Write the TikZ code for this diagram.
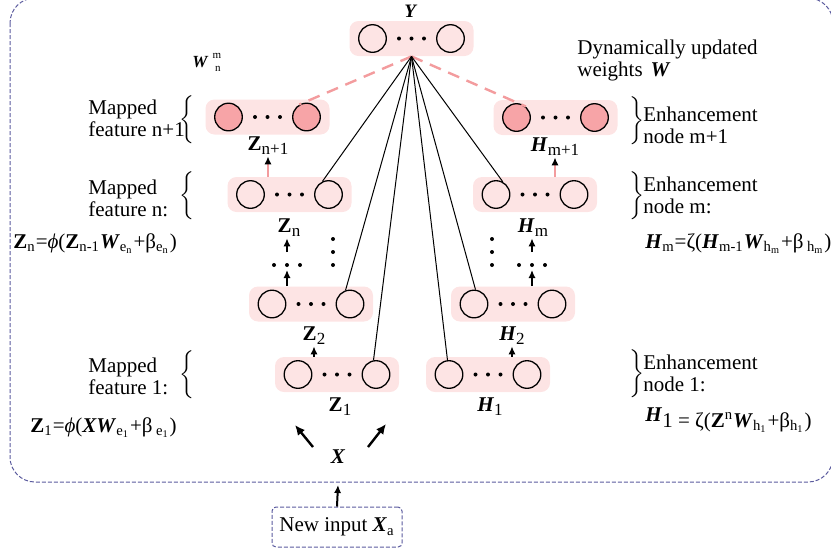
\documentclass[tikz,border=0pt]{standalone}
\usepackage{fontspec}
\setmainfont{Liberation Serif}
\usetikzlibrary{calc}
\usetikzlibrary{calc,arrows.meta,positioning}
\definecolor{boxpink}{HTML}{FDE4E4}
\definecolor{unitpink}{HTML}{F7A4A7}
\definecolor{linkpink}{HTML}{F39C9E}
\definecolor{frameblue}{HTML}{5B5B9E}
\newcommand{\Px}{0.5pt}
\newcommand{\BI}[1]{\textbf{\textit{#1}}}
\newcommand{\Lbl}[2]{#1\raisebox{-2pt}{\fontsize{8.5}{8.5}\selectfont #2}}
\tikzset{Layer/.style={
    inner sep=0pt,
    minimum width=62pt,
    minimum height=17.5pt,
    rounded corners=4.5pt,
    fill=boxpink,
    }
}
\tikzset{Unit/.style={
    circle,
    inner sep=0pt,
    minimum size=13.8pt,
    draw=black,
    line width=0.65pt,
    fill=boxpink,
    }
}

\begin{document}
\begin{tikzpicture}[x=\Px, y=-\Px,
    font=\fontsize{10.5}{11}\selectfont,
    Txt/.style={inner sep=0pt, align=left, anchor=base west},
    Lab/.style={inner sep=1pt, anchor=base},
    Arr/.style={-{Latex[length=4pt,width=3.6pt]}, line width=0.75pt},
    PinkArr/.style={-{Latex[length=4pt,width=3.6pt,color=black]}, line width=0.75pt, draw=linkpink},
    BigArr/.style={-{Latex[length=5pt,width=4.6pt]}, line width=1.2pt},
    Link/.style={line width=0.5pt},
    PinkDash/.style={draw=linkpink, line width=1.2pt, dash pattern=on 6pt off 4pt},
    Frame/.style={draw=frameblue, line width=0.5pt, dash pattern=on 2pt off 1pt},
    Dark/.style={Unit, fill=unitpink},
]
\useasboundingbox (0,0) rectangle (831,554);
\clip (0,0) rectangle (831,554);

% outer frame and new input
\draw[Frame, rounded corners=12.5pt] (10,-2) rectangle (833,482);
\node [Frame, rounded corners=2pt, inner sep=0pt, minimum width=65pt, minimum height=20pt] (input) at (337,527) {New input \BI{X}\textsubscript{a}};
\coordinate (xin) at (338,485);
\draw[Arr, line width=1pt] (input.north) -- (xin);

% output layer
\pgfmathsetmacro{\cx}{411.5} \pgfmathsetmacro{\cy}{38.5}
\node [Layer] (ly) at (\cx,\cy) {};
\node [Unit] (ly-a) at ($(\cx,\cy)+(-39,0)$) {};
\node [Unit] (ly-b) at ($(\cx,\cy)+(39,0)$) {};
\foreach \d in {-12.5,0,12.5} \fill ($(\cx,\cy)+(\d,0)$) circle [radius=1pt];

% mapped feature n+1
\pgfmathsetmacro{\cx}{267.5} \pgfmathsetmacro{\cy}{117}
\node [Layer] (lzp) at (\cx,\cy) {};
\node [Dark] (lzp-a) at ($(\cx,\cy)+(-39,0)$) {};
\node [Dark] (lzp-b) at ($(\cx,\cy)+(39,0)$) {};
\foreach \d in {-12.5,0,12.5} \fill ($(\cx,\cy)+(\d,0)$) circle [radius=1pt];

% enhancement node m+1
\pgfmathsetmacro{\cx}{555.5} \pgfmathsetmacro{\cy}{117.5}
\node [Layer] (lhp) at (\cx,\cy) {};
\node [Dark] (lhp-a) at ($(\cx,\cy)+(-39,0)$) {};
\node [Dark] (lhp-b) at ($(\cx,\cy)+(39,0)$) {};
\foreach \d in {-12.5,0,12.5} \fill ($(\cx,\cy)+(\d,0)$) circle [radius=1pt];

% mapped feature n
\pgfmathsetmacro{\cx}{289.5} \pgfmathsetmacro{\cy}{194.5}
\node [Layer] (lzn) at (\cx,\cy) {};
\node [Unit] (lzn-a) at ($(\cx,\cy)+(-39,0)$) {};
\node [Unit] (lzn-b) at ($(\cx,\cy)+(39,0)$) {};
\foreach \d in {-12.5,0,12.5} \fill ($(\cx,\cy)+(\d,0)$) circle [radius=1pt];

% enhancement node m
\pgfmathsetmacro{\cx}{535} \pgfmathsetmacro{\cy}{194.5}
\node [Layer] (lhm) at (\cx,\cy) {};
\node [Unit] (lhm-a) at ($(\cx,\cy)+(-39,0)$) {};
\node [Unit] (lhm-b) at ($(\cx,\cy)+(39,0)$) {};
\foreach \d in {-12.5,0,12.5} \fill ($(\cx,\cy)+(\d,0)$) circle [radius=1pt];

% mapped feature 2
\pgfmathsetmacro{\cx}{311} \pgfmathsetmacro{\cy}{304}
\node [Layer] (lz2) at (\cx,\cy) {};
\node [Unit] (lz2-a) at ($(\cx,\cy)+(-39,0)$) {};
\node [Unit] (lz2-b) at ($(\cx,\cy)+(39,0)$) {};
\foreach \d in {-12.5,0,12.5} \fill ($(\cx,\cy)+(\d,0)$) circle [radius=1pt];

% enhancement node 2
\pgfmathsetmacro{\cx}{513} \pgfmathsetmacro{\cy}{304}
\node [Layer] (lh2) at (\cx,\cy) {};
\node [Unit] (lh2-a) at ($(\cx,\cy)+(-39,0)$) {};
\node [Unit] (lh2-b) at ($(\cx,\cy)+(39,0)$) {};
\foreach \d in {-12.5,0,12.5} \fill ($(\cx,\cy)+(\d,0)$) circle [radius=1pt];

% mapped feature 1
\pgfmathsetmacro{\cx}{337} \pgfmathsetmacro{\cy}{374.5}
\node [Layer] (lz1) at (\cx,\cy) {};
\node [Unit] (lz1-a) at ($(\cx,\cy)+(-39,0)$) {};
\node [Unit] (lz1-b) at ($(\cx,\cy)+(39,0)$) {};
\foreach \d in {-12.5,0,12.5} \fill ($(\cx,\cy)+(\d,0)$) circle [radius=1pt];

% enhancement node 1
\pgfmathsetmacro{\cx}{488} \pgfmathsetmacro{\cy}{374.5}
\node [Layer] (lh1) at (\cx,\cy) {};
\node [Unit] (lh1-a) at ($(\cx,\cy)+(-39,0)$) {};
\node [Unit] (lh1-b) at ($(\cx,\cy)+(39,0)$) {};
\foreach \d in {-12.5,0,12.5} \fill ($(\cx,\cy)+(\d,0)$) circle [radius=1pt];

% labels
\node [Lab] (ylab) at (411,17) {\fontsize{9.5}{10}\selectfont\BI{Y}};
\node [Lab] (zplab) at (268,150) {\Lbl{\textbf{Z}}{n+1}};
\node [Lab] (hplab) at (555,151) {\Lbl{\BI{H}}{m+1}};
\node [Lab] (znlab) at (289,232) {\Lbl{\textbf{Z}}{n}};
\node [Lab] (hmlab) at (533,232) {\Lbl{\BI{H}}{m}};
\node [Lab] (z2lab) at (314,340) {\Lbl{\textbf{Z}}{2}};
\node [Lab] (h2lab) at (512,340) {\Lbl{\BI{H}}{2}};
\node [Lab] (z1lab) at (340,411) {\Lbl{\textbf{Z}}{1}};
\node [Lab] (h1lab) at (490,411) {\Lbl{\BI{H}}{1}};
\node [Lab] (xlab) at (338,463) {\BI{X}};

% side texts
\node [Txt] (wnm) at (192,67) {\fontsize{8.5}{9}\selectfont\BI{W}\hspace{2pt}\raisebox{4.5pt}{\fontsize{5.5}{6}\selectfont m}\hspace{-3pt}\raisebox{-2pt}{\fontsize{5.5}{6}\selectfont n}};
\node [Txt] (tw) at (577,76) {Dynamically updated\\weights\hspace{4pt}\BI{W}};
\node [Txt] (tzp) at (88,136) {Mapped\\feature n+1};
\node [Txt] (tzn) at (88,216) {Mapped\\feature n:};
\node [Txt] (tz1) at (88,394) {Mapped\\feature 1:};
\node [Txt] (thp) at (643,143) {Enhancement\\node m+1};
\node [Txt] (thm) at (643,213) {Enhancement\\node m:};
\node [Txt] (th1) at (643,391) {Enhancement\\node 1:};
\node (bzp) at (188,120) {$\left\{\rule[-7.5pt]{0pt}{20pt}\right.$};
\node (bzn) at (188,196) {$\left\{\rule[-7.5pt]{0pt}{20pt}\right.$};
\node (bz1) at (188,375) {$\left\{\rule[-7.5pt]{0pt}{20pt}\right.$};
\node (bhp) at (636,121) {$\left.\rule[-7.5pt]{0pt}{20pt}\right\}$};
\node (bhm) at (636,196) {$\left.\rule[-7.5pt]{0pt}{20pt}\right\}$};
\node (bh1) at (636,374) {$\left.\rule[-7.5pt]{0pt}{20pt}\right\}$};

% formulas
\node [Txt] (fzn) at (13,248) {\textbf{Z}\textsubscript{n}=\textit{ϕ}(\textbf{Z}\textsubscript{n-1}\BI{W}\textsubscript{e\textsubscript{n}}+β\textsubscript{e\textsubscript{n}})};
\node [Txt] (fz1) at (30,432) {\textbf{Z}\textsubscript{1}=\textit{ϕ}(\BI{XW}\textsubscript{e\textsubscript{1}}+β\,\textsubscript{e\textsubscript{1}})};
\node [Txt] (fhm) at (645,248) {\BI{H}\textsubscript{m}=ζ(\BI{H}\textsubscript{m-1}\BI{W}\textsubscript{h\textsubscript{m}}+β\,\textsubscript{h\textsubscript{m}})};
\node [Txt] (fh1) at (645,427) {\raisebox{3pt}{\BI{H}}1 = ζ(\textbf{Z}\textsuperscript{n}\BI{W}\textsubscript{h\textsubscript{1}}+β\textsubscript{h\textsubscript{1}})};

% links to the output layer
\draw[PinkDash] (ly.south) -- (lzp-b.120);
\draw[PinkDash] (ly.south) -- (lhp-a.50);
\draw[Link] (ly.south) -- (lzn-b.115);
\draw[Link] (ly.south) -- (lz2-b.108);
\draw[Link] (ly.south) -- (lz1-b.100);
\draw[Link] (ly.south) -- (lh1-a.96);
\draw[Link] (ly.south) -- (lh2-a.84);
\draw[Link] (ly.south) -- (lhm-a.62);

% feature and enhancement chains
\coordinate (zgap) at (287,265);
\coordinate (hgap) at (532,265);
\coordinate (zvd) at (333,252);
\coordinate (hvd) at (492,252);
\foreach \d in {-13,0,13} {
    \fill ($(zgap)+(\d,0)$) circle [radius=1pt];
    \fill ($(hgap)+(\d,0)$) circle [radius=1pt];
    \fill ($(zvd)+(0,\d)$) circle [radius=1pt];
    \fill ($(hvd)+(0,\d)$) circle [radius=1pt];
}
\draw[PinkArr] (lzn.north -| zplab) -- (zplab.south);
\draw[PinkArr] (lhm.north -| hplab) -- (hplab.south);
\draw[Arr] ($(zgap)+(0,-13)$) -- (znlab.south -| zgap);
\draw[Arr] ($(hgap)+(0,-13)$) -- (hmlab.south -| hgap);
\draw[Arr] (lz2.north -| zgap) -- ($(zgap)+(0,5)$);
\draw[Arr] (lh2.north -| hgap) -- ($(hgap)+(0,5)$);
\draw[Arr] (lz1.north -| z2lab) -- (z2lab.south);
\draw[Arr] (lh1.north -| h2lab) -- (h2lab.south);

% input arrows
\coordinate (xl0) at (313,447);
\coordinate (xl1) at (295,425);
\coordinate (xr0) at (368,447);
\coordinate (xr1) at (386,424);
\draw[BigArr] (xl0) -- (xl1);
\draw[BigArr] (xr0) -- (xr1);
\end{tikzpicture}
\end{document}
